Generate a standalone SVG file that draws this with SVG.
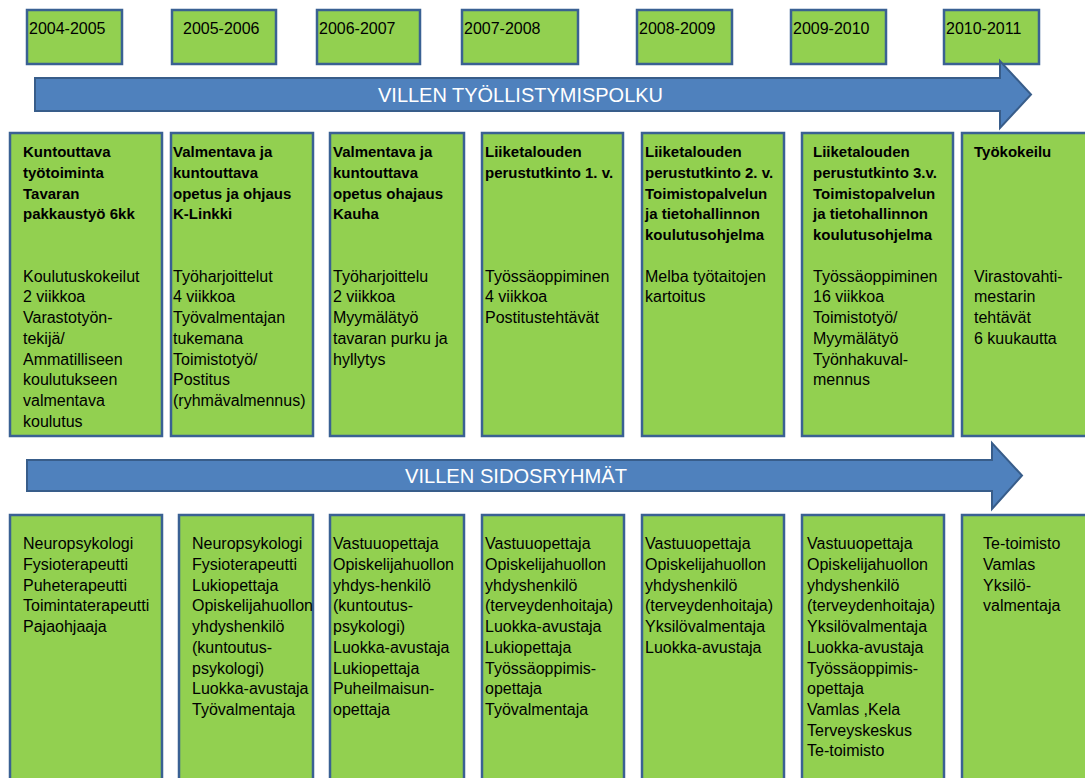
<svg xmlns="http://www.w3.org/2000/svg" width="1085" height="778" viewBox="0 0 1085 778">
<style>
.box{fill:#92D050;stroke:#3A6193;stroke-width:2.5}
.arrow{fill:#4F81BD;stroke:#385D8A;stroke-width:2}
.yr{font-family:"Liberation Sans",Arial,sans-serif;font-size:16px;fill:#000}
.t{font-family:"Liberation Sans",Arial,sans-serif;font-size:16px;fill:#000}
.b{font-family:"Liberation Sans",Arial,sans-serif;font-size:15px;font-weight:bold;fill:#000}
.at{font-family:"Liberation Sans",Arial,sans-serif;font-size:21px;fill:#fff}
</style>
<rect width="1085" height="778" fill="#fff"/>
<g id="years">
<g id="y1"><rect class="box" x="27" y="10" width="95" height="54"/><text class="yr" x="29" y="34">2004-2005</text></g>
<g id="y2"><rect class="box" x="172" y="10" width="104" height="54"/><text class="yr" x="183" y="34">2005-2006</text></g>
<g id="y3"><rect class="box" x="317" y="10" width="103" height="54"/><text class="yr" x="319" y="34">2006-2007</text></g>
<g id="y4"><rect class="box" x="462" y="10" width="116" height="54"/><text class="yr" x="464" y="34">2007-2008</text></g>
<g id="y5"><rect class="box" x="637" y="10" width="95" height="54"/><text class="yr" x="639" y="34">2008-2009</text></g>
<g id="y6"><rect class="box" x="791" y="10" width="95" height="54"/><text class="yr" x="793" y="34">2009-2010</text></g>
<g id="y7"><rect class="box" x="944" y="10" width="95" height="54"/><text class="yr" x="946" y="34">2010-2011</text></g>
</g>
<g id="connectors">
<g id="arrow1"><path class="arrow" d="M35,78 L1000,78 L1000,61 L1031,94.5 L1000,128 L1000,111 L35,111 Z"/><text class="at" x="378" y="102" textLength="285" lengthAdjust="spacingAndGlyphs">VILLEN TYÖLLISTYMISPOLKU</text></g>
<g id="arrow2"><path class="arrow" d="M27,460 L992,460 L992,443 L1022,475.5 L992,509 L992,491 L27,491 Z"/><text class="at" x="405" y="483" textLength="222" lengthAdjust="spacingAndGlyphs">VILLEN SIDOSRYHMÄT</text></g>
</g>
<g id="path-row">
<g id="p1"><rect class="box" x="10" y="133" width="152" height="303"/>
<text class="b" x="23" y="157.3"><tspan x="23">Kuntouttava</tspan><tspan x="23" dy="20.7">työtoiminta</tspan><tspan x="23" dy="20.7">Tavaran</tspan><tspan x="23" dy="20.7">pakkaustyö 6kk</tspan></text>
<text class="t" x="23" y="281.7"><tspan x="23">Koulutuskokeilut</tspan><tspan x="23" dy="20.7">2 viikkoa</tspan><tspan x="23" dy="20.7">Varastotyön-</tspan><tspan x="23" dy="20.7">tekijä/</tspan><tspan x="23" dy="20.7">Ammatilliseen</tspan><tspan x="23" dy="20.7">koulutukseen</tspan><tspan x="23" dy="20.7">valmentava</tspan><tspan x="23" dy="20.7">koulutus</tspan></text></g>
<g id="p2"><rect class="box" x="171" y="133" width="142" height="303"/>
<text class="b" x="173" y="157.3"><tspan x="173">Valmentava ja</tspan><tspan x="173" dy="20.7">kuntouttava</tspan><tspan x="173" dy="20.7">opetus ja ohjaus</tspan><tspan x="173" dy="20.7">K-Linkki</tspan></text>
<text class="t" x="173" y="281.7"><tspan x="173">Työharjoittelut</tspan><tspan x="173" dy="20.7">4 viikkoa</tspan><tspan x="173" dy="20.7">Työvalmentajan</tspan><tspan x="173" dy="20.7">tukemana</tspan><tspan x="173" dy="20.7">Toimistotyö/</tspan><tspan x="173" dy="20.7">Postitus</tspan><tspan x="173" dy="20.7">(ryhmävalmennus)</tspan></text></g>
<g id="p3"><rect class="box" x="330" y="133" width="134" height="303"/>
<text class="b" x="333" y="157.3"><tspan x="333">Valmentava ja</tspan><tspan x="333" dy="20.7">kuntouttava</tspan><tspan x="333" dy="20.7">opetus ohajaus</tspan><tspan x="333" dy="20.7">Kauha</tspan></text>
<text class="t" x="333" y="281.7"><tspan x="333">Työharjoittelu</tspan><tspan x="333" dy="20.7">2 viikkoa</tspan><tspan x="333" dy="20.7">Myymälätyö</tspan><tspan x="333" dy="20.7">tavaran purku ja</tspan><tspan x="333" dy="20.7">hyllytys</tspan></text></g>
<g id="p4"><rect class="box" x="482" y="133" width="141" height="303"/>
<text class="b" x="485" y="157.3"><tspan x="485">Liiketalouden</tspan><tspan x="485" dy="20.7">perustutkinto 1. v.</tspan></text>
<text class="t" x="485" y="281.7"><tspan x="485">Työssäoppiminen</tspan><tspan x="485" dy="20.7">4 viikkoa</tspan><tspan x="485" dy="20.7">Postitustehtävät</tspan></text></g>
<g id="p5"><rect class="box" x="642" y="133" width="142" height="303"/>
<text class="b" x="645" y="157.3"><tspan x="645">Liiketalouden</tspan><tspan x="645" dy="20.7">perustutkinto 2. v.</tspan><tspan x="645" dy="20.7">Toimistopalvelun</tspan><tspan x="645" dy="20.7">ja tietohallinnon</tspan><tspan x="645" dy="20.7">koulutusohjelma</tspan></text>
<text class="t" x="645" y="281.7"><tspan x="645">Melba työtaitojen</tspan><tspan x="645" dy="20.7">kartoitus</tspan></text></g>
<g id="p6"><rect class="box" x="802" y="133" width="151" height="303"/>
<text class="b" x="813" y="157.3"><tspan x="813">Liiketalouden</tspan><tspan x="813" dy="20.7">perustutkinto 3.v.</tspan><tspan x="813" dy="20.7">Toimistopalvelun</tspan><tspan x="813" dy="20.7">ja tietohallinnon</tspan><tspan x="813" dy="20.7">koulutusohjelma</tspan></text>
<text class="t" x="813" y="281.7"><tspan x="813">Työssäoppiminen</tspan><tspan x="813" dy="20.7">16 viikkoa</tspan><tspan x="813" dy="20.7">Toimistotyö/</tspan><tspan x="813" dy="20.7">Myymälätyö</tspan><tspan x="813" dy="20.7">Työnhakuval-</tspan><tspan x="813" dy="20.7">mennus</tspan></text></g>
<g id="p7"><rect class="box" x="962" y="133" width="130" height="303"/>
<text class="b" x="974" y="157.3">Työkokeilu</text>
<text class="t" x="974" y="281.7"><tspan x="974">Virastovahti-</tspan><tspan x="974" dy="20.7">mestarin</tspan><tspan x="974" dy="20.7">tehtävät</tspan><tspan x="974" dy="20.7">6 kuukautta</tspan></text></g>
</g>
<g id="stakeholder-row">
<g id="s1"><rect class="box" x="10" y="515" width="152" height="280"/>
<text class="t" x="23" y="549.3"><tspan x="23">Neuropsykologi</tspan><tspan x="23" dy="20.7">Fysioterapeutti</tspan><tspan x="23" dy="20.7">Puheterapeutti</tspan><tspan x="23" dy="20.7">Toimintaterapeutti</tspan><tspan x="23" dy="20.7">Pajaohjaaja</tspan></text></g>
<g id="s2"><rect class="box" x="179" y="515" width="134" height="280"/>
<text class="t" x="192" y="549.3"><tspan x="192">Neuropsykologi</tspan><tspan x="192" dy="20.7">Fysioterapeutti</tspan><tspan x="192" dy="20.7">Lukiopettaja</tspan><tspan x="192" dy="20.7">Opiskelijahuollon</tspan><tspan x="192" dy="20.7">yhdyshenkilö</tspan><tspan x="192" dy="20.7">(kuntoutus-</tspan><tspan x="192" dy="20.7">psykologi)</tspan><tspan x="192" dy="20.7">Luokka-avustaja</tspan><tspan x="192" dy="20.7">Työvalmentaja</tspan></text></g>
<g id="s3"><rect class="box" x="330" y="515" width="134" height="280"/>
<text class="t" x="333" y="549.3"><tspan x="333">Vastuuopettaja</tspan><tspan x="333" dy="20.7">Opiskelijahuollon</tspan><tspan x="333" dy="20.7">yhdys-henkilö</tspan><tspan x="333" dy="20.7">(kuntoutus-</tspan><tspan x="333" dy="20.7">psykologi)</tspan><tspan x="333" dy="20.7">Luokka-avustaja</tspan><tspan x="333" dy="20.7">Lukiopettaja</tspan><tspan x="333" dy="20.7">Puheilmaisun-</tspan><tspan x="333" dy="20.7">opettaja</tspan></text></g>
<g id="s4"><rect class="box" x="482" y="515" width="142" height="280"/>
<text class="t" x="485" y="549.3"><tspan x="485">Vastuuopettaja</tspan><tspan x="485" dy="20.7">Opiskelijahuollon</tspan><tspan x="485" dy="20.7">yhdyshenkilö</tspan><tspan x="485" dy="20.7">(terveydenhoitaja)</tspan><tspan x="485" dy="20.7">Luokka-avustaja</tspan><tspan x="485" dy="20.7">Lukiopettaja</tspan><tspan x="485" dy="20.7">Työssäoppimis-</tspan><tspan x="485" dy="20.7">opettaja</tspan><tspan x="485" dy="20.7">Työvalmentaja</tspan></text></g>
<g id="s5"><rect class="box" x="642" y="515" width="142" height="280"/>
<text class="t" x="645" y="549.3"><tspan x="645">Vastuuopettaja</tspan><tspan x="645" dy="20.7">Opiskelijahuollon</tspan><tspan x="645" dy="20.7">yhdyshenkilö</tspan><tspan x="645" dy="20.7">(terveydenhoitaja)</tspan><tspan x="645" dy="20.7">Yksilövalmentaja</tspan><tspan x="645" dy="20.7">Luokka-avustaja</tspan></text></g>
<g id="s6"><rect class="box" x="802" y="515" width="142" height="280"/>
<text class="t" x="807" y="549.3"><tspan x="807">Vastuuopettaja</tspan><tspan x="807" dy="20.7">Opiskelijahuollon</tspan><tspan x="807" dy="20.7">yhdyshenkilö</tspan><tspan x="807" dy="20.7">(terveydenhoitaja)</tspan><tspan x="807" dy="20.7">Yksilövalmentaja</tspan><tspan x="807" dy="20.7">Luokka-avustaja</tspan><tspan x="807" dy="20.7">Työssäoppimis-</tspan><tspan x="807" dy="20.7">opettaja</tspan><tspan x="807" dy="20.7">Vamlas ,Kela</tspan><tspan x="807" dy="20.7">Terveyskeskus</tspan><tspan x="807" dy="20.7">Te-toimisto</tspan></text></g>
<g id="s7"><rect class="box" x="962" y="515" width="130" height="280"/>
<text class="t" x="983" y="549.3"><tspan x="983">Te-toimisto</tspan><tspan x="983" dy="20.7">Vamlas</tspan><tspan x="983" dy="20.7">Yksilö-</tspan><tspan x="983" dy="20.7">valmentaja</tspan></text></g>
</g>
</svg>
